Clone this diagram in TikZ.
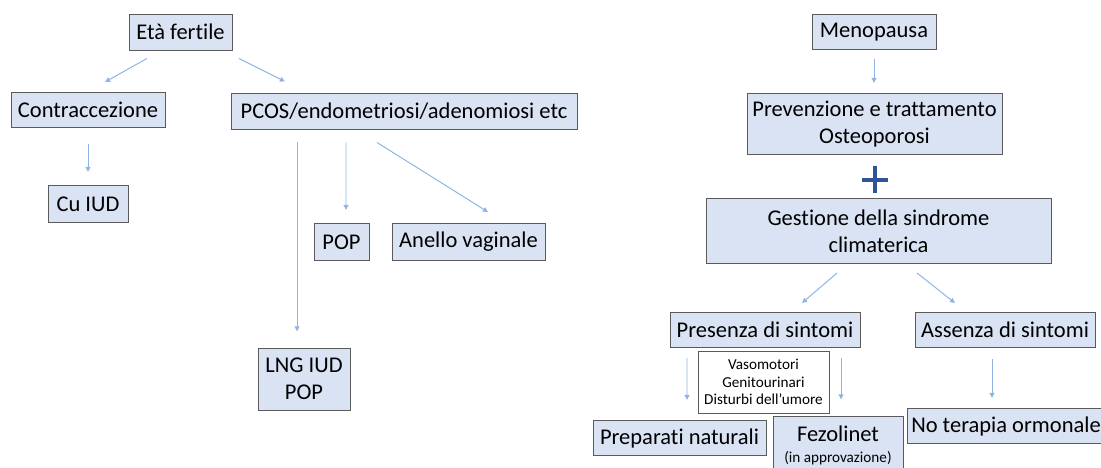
\documentclass[tikz,border=0pt]{standalone}
\usepackage{fontspec}
\setmainfont{Carlito}[Ligatures=NoCommon]
\usetikzlibrary{arrows.meta,calc}

\definecolor{boxfill}{RGB}{218,227,243}
\definecolor{boxline}{RGB}{90,90,90}
\definecolor{arrowblue}{RGB}{141,180,226}
\definecolor{plusblue}{RGB}{47,85,151}

\tikzset{
	box/.style={draw=boxline, fill=boxfill, line width=0.7pt, inner sep=0pt, align=center,
		font=\fontsize{16}{19.5}\selectfont},
	notebox/.style={draw=boxline, fill=white, line width=0.7pt, inner sep=0pt, align=center,
		font=\fontsize{10.8}{12.6}\selectfont},
	arr/.style={draw=arrowblue, line width=0.7pt, -{Triangle[length=3.6pt,width=3.4pt]}},
	plusmark/.style={draw=plusblue, line width=3pt}
}

\begin{document}
\begin{tikzpicture}[x=0.025cm, y=-0.025cm]
	\useasboundingbox (0,0) rectangle (1101,468);
	
	% Eta fertile
	\node[box, minimum width=103*0.025cm, minimum height=36*0.025cm] (eta) at (180.5,32) {Età fertile};
	\node[box, minimum width=154*0.025cm, minimum height=35*0.025cm] (contr) at (88,110) {Contraccezione};
	\node[box, minimum width=346*0.025cm, minimum height=36*0.025cm] (pcos) at (404,111) {PCOS/endometriosi/adenomiosi etc};
	\node[box, minimum width=80*0.025cm, minimum height=37*0.025cm] (cuiud) at (88,204) {Cu IUD};
	\node[box, minimum width=55*0.025cm, minimum height=37*0.025cm] (pop) at (341.5,242) {POP};
	\node[box, minimum width=153*0.025cm, minimum height=37*0.025cm] (anello) at (468.5,242) {Anello vaginale};
	\node[box, minimum width=92*0.025cm, minimum height=62*0.025cm] (lng) at (304,379) {LNG IUD\\POP};
	
	\draw[arr] ($(eta.south)+(-33.5,8)$) -- ($(contr.north)+(17,-10)$);
	\draw[arr] ($(eta.south)+(58.5,8)$) -- ($(pcos.north)+(-119,-11)$);
	\draw[arr] ($(contr.south)+(0,16)$) -- ($(cuiud.north)+(0,-13)$);
	\draw[arr] ($(pcos.south)+(-107,13)$) -- ($(lng.north)+(-7,-16)$);
	\draw[arr] ($(pcos.south)+(-58,13)$) -- ($(pop.north)+(4.5,-13)$);
	\draw[arr] ($(pcos.south)+(-27,13)$) -- ($(anello.north)+(19.5,-11)$);
	
	% Menopausa
	\node[box, minimum width=124*0.025cm, minimum height=35*0.025cm] (meno) at (874,32) {Menopausa};
	\node[box, minimum width=255*0.025cm, minimum height=61*0.025cm] (prev) at (874.5,124) {Prevenzione e trattamento\\Osteoporosi};
	\node[box, minimum width=345*0.025cm, minimum height=65*0.025cm] (gest) at (878.5,231) {Gestione della sindrome\\climaterica};
	\draw[plusmark] (875,166) -- (875,193);
	\draw[plusmark] (862,180) -- (888,180);
	
	\node[box, minimum width=190*0.025cm, minimum height=35*0.025cm] (pres) at (765,330) {Presenza di sintomi};
	\node[box, minimum width=180*0.025cm, minimum height=35*0.025cm] (ass) at (1005,330) {Assenza di sintomi};
	\node[notebox, minimum width=131*0.025cm, minimum height=62*0.025cm] (sint) at (763.5,382) {Vasomotori\\Genitourinari\\Disturbi dell’umore};
	\node[box, minimum width=173*0.025cm, minimum height=35*0.025cm] (prep) at (679.5,438) {Preparati naturali};
	\node[box, minimum width=130*0.025cm, minimum height=59*0.025cm] (fez) at (838,445.5) {Fezolinet\\[-5pt]{\fontsize{10.8}{12}\selectfont (in approvazione)}};
	\node[box, minimum width=198*0.025cm, minimum height=35*0.025cm] (noter) at (1006,426) {No terapia ormonale};
	
	\draw[arr] ($(meno.south)+(0,9)$) -- ($(prev.north)+(-0.5,-10)$);
	\draw[arr] ($(gest.south)+(-41.5,9)$) -- ($(pres.north)+(37,-9)$);
	\draw[arr] ($(gest.south)+(38.5,9)$) -- ($(ass.north)+(-50,-9)$);
	\draw[arr] ($(pres.south)+(-78,10)$) -- ($(prep.north)+(7.5,-20)$);
	\draw[arr] ($(pres.south)+(76,10)$) -- ($(fez.north)+(3,-16)$);
	\draw[arr] ($(ass.south)+(-13,11)$) -- ($(noter.north)+(-14,-10)$);
\end{tikzpicture}
\end{document}
